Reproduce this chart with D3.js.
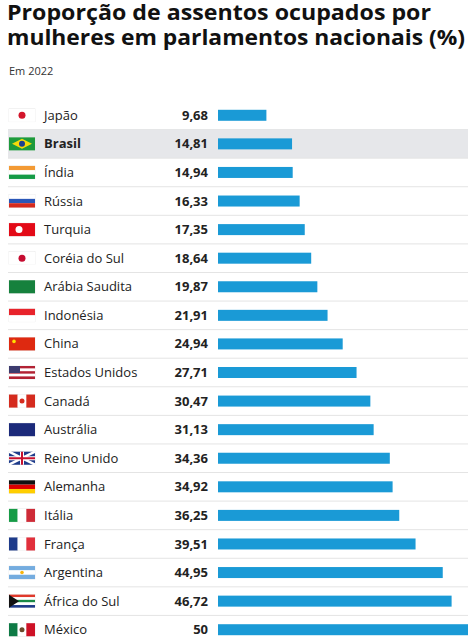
<!DOCTYPE html>
<html><head><meta charset="utf-8">
<script src="https://cdn.jsdelivr.net/npm/d3@7"></script>
<style>body{margin:0;background:#fff;font-family:"Open Sans",sans-serif;}</style>
</head><body><div id="chart"></div>
<script>
const countries = ["Japão","Brasil","Índia","Rússia","Turquia","Coréia do Sul","Arábia Saudita","Indonésia","China","Estados Unidos","Canadá","Austrália","Reino Unido","Alemanha","Itália","França","Argentina","África do Sul","México"];
const values = [9.68,14.81,14.94,16.33,17.35,18.64,19.87,21.91,24.94,27.71,30.47,31.13,34.36,34.92,36.25,39.51,44.95,46.72,50];
const highlight = "Brasil";
// flag stripes: [orientation, colors...]
const flags = [
  ["h","#fff"],["h","#1d9a3c"],["h","#f39a34","#fff","#169b46"],["h","#fff","#2a57b8","#d52b1e"],
  ["h","#e30a17"],["h","#fff"],["h","#16813d"],["h","#e8232b","#fff"],["h","#de2910"],
  ["h","#b22234","#fff","#b22234","#fff","#b22234"],["v","#d52b1e","#fff","#d52b1e"],["h","#1b2a7a"],
  ["h","#1e3b8a"],["h","#111","#dd0000","#ffce00"],["v","#169b46","#fff","#ce2b37"],["v","#1e3b8a","#fff","#e1303c"],
  ["h","#74acdf","#fff","#74acdf"],["h","#e0392b","#fff","#1a8a46","#fff","#1e3b8a"],["v","#0e7a45","#fff","#ce1126"]
];

const W = 476, H = 644;
const svg = d3.select("#chart").append("svg").attr("width", W).attr("height", H);

svg.append("text").attr("x",7).attr("y",20).attr("font-size",21.5).attr("font-weight",700).attr("fill","#111")
  .attr("textLength",424).attr("lengthAdjust","spacingAndGlyphs")
  .text("Proporção de assentos ocupados por");
svg.append("text").attr("x",7).attr("y",45).attr("font-size",21.5).attr("font-weight",700).attr("fill","#111")
  .attr("textLength",458).attr("lengthAdjust","spacingAndGlyphs")
  .text("mulheres em parlamentos nacionais (%)");
svg.append("text").attr("x",9).attr("y",75).attr("font-size",11).attr("fill","#333").text("Em 2022");

const y = d3.scaleBand().domain(countries).range([101, 644]).paddingInner(0);
const x = d3.scaleLinear().domain([0, 50]).range([218, 468]);

const rows = svg.selectAll("g.row").data(countries).join("g").attr("class","row")
  .attr("transform", d => `translate(0,${y(d)})`);
const bh = y.bandwidth();

rows.filter(d => d === highlight).append("rect")
  .attr("x",8).attr("y",0).attr("width",460).attr("height",bh).attr("fill","#e6e7ea");
rows.filter((d,i) => i < countries.length-1).append("line")
  .attr("x1",8).attr("x2",468).attr("y1",bh).attr("y2",bh).attr("stroke","#e4e4e4");

rows.each(function(d,i){
  const g = d3.select(this);
  const f = flags[i], cols = f.slice(1);
  const fx = 9, fy = bh/2-6.5, fw = 26, fh = 13;
  g.append("rect").attr("x",fx).attr("y",fy).attr("width",fw).attr("height",fh).attr("fill","#fff").attr("stroke","#ddd").attr("stroke-width",0.5);
  cols.forEach((c,k) => {
    if (f[0]==="h") g.append("rect").attr("x",fx).attr("y",fy+k*fh/cols.length).attr("width",fw).attr("height",fh/cols.length).attr("fill",c);
    else g.append("rect").attr("x",fx+k*fw/cols.length).attr("y",fy).attr("width",fw/cols.length).attr("height",fh).attr("fill",c);
  });
  if (d==="Japão") g.append("circle").attr("cx",fx+fw/2).attr("cy",fy+fh/2).attr("r",3.5).attr("fill","#d3152b");
  if (d==="Brasil") { g.append("path").attr("d",`M${fx+3},${fy+fh/2}L${fx+fw/2},${fy+1.5}L${fx+fw-3},${fy+fh/2}L${fx+fw/2},${fy+fh-1.5}Z`).attr("fill","#f5d90a");
    g.append("circle").attr("cx",fx+fw/2).attr("cy",fy+fh/2).attr("r",3).attr("fill","#1d3f8f"); }
  if (d==="Turquia") g.append("circle").attr("cx",fx+10).attr("cy",fy+fh/2).attr("r",3.5).attr("fill","#fff");
  if (d==="Coréia do Sul") g.append("circle").attr("cx",fx+fw/2).attr("cy",fy+fh/2).attr("r",3.5).attr("fill","#c60c30");
  if (d==="China") g.append("circle").attr("cx",fx+5).attr("cy",fy+4).attr("r",1.8).attr("fill","#ffde00");
  if (d==="Estados Unidos") g.append("rect").attr("x",fx).attr("y",fy).attr("width",11).attr("height",7).attr("fill","#3c3b6e");
  if (d==="Canadá") g.append("circle").attr("cx",fx+fw/2).attr("cy",fy+fh/2).attr("r",2.5).attr("fill","#d52b1e");
  if (d==="Reino Unido") { g.append("path").attr("d",`M${fx},${fy}L${fx+fw},${fy+fh}M${fx+fw},${fy}L${fx},${fy+fh}`).attr("stroke","#fff").attr("stroke-width",2.5);
    g.append("path").attr("d",`M${fx+fw/2},${fy}V${fy+fh}M${fx},${fy+fh/2}H${fx+fw}`).attr("stroke","#fff").attr("stroke-width",4);
    g.append("path").attr("d",`M${fx+fw/2},${fy}V${fy+fh}M${fx},${fy+fh/2}H${fx+fw}`).attr("stroke","#c8102e").attr("stroke-width",2); }
  if (d==="África do Sul") g.append("path").attr("d",`M${fx},${fy}L${fx+10},${fy+fh/2}L${fx},${fy+fh}Z`).attr("fill","#111");
  if (d==="México") g.append("circle").attr("cx",fx+fw/2).attr("cy",fy+fh/2).attr("r",2.5).attr("fill","#6b4a2b");
  if (d==="Argentina") g.append("circle").attr("cx",fx+fw/2).attr("cy",fy+fh/2).attr("r",1.8).attr("fill","#f6b40e");
});

rows.append("text").attr("x",44).attr("y",bh/2).attr("dy","0.35em").attr("font-size",13)
  .attr("font-weight", d => d===highlight ? 700 : 400).attr("fill","#222").text(d => d);
rows.append("text").attr("x",208).attr("y",bh/2).attr("dy","0.35em").attr("text-anchor","end")
  .attr("font-size",13).attr("font-weight",700).attr("fill","#222")
  .text((d,i) => d3.format(".2~f")(values[i]).replace(".",","));
rows.append("rect").attr("x",x(0)).attr("y",bh/2-5.5).attr("height",11)
  .attr("width",(d,i) => x(values[i]) - x(0)).attr("fill","#1a9ad6");
</script></body></html>
